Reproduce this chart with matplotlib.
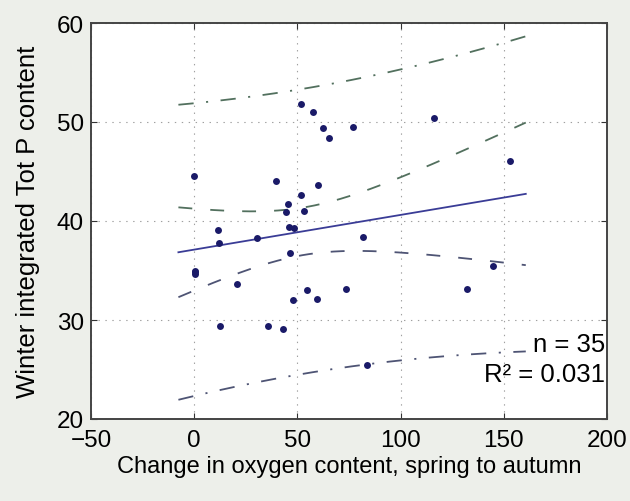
import numpy as np
import matplotlib
matplotlib.use("Agg")
import matplotlib.pyplot as plt

plt.rcParams['font.family'] = ['Liberation Sans', 'DejaVu Sans']
plt.rcParams['lines.scale_dashes'] = False

# oxygen change (spring -> autumn) vs winter integrated total P
oxygen_change = [0.0, 0.4, 0.4, 0.4, 11.6, 12.2, 12.6, 20.8, 30.5, 35.8,
                 39.6, 43.2, 44.7, 45.5, 46.1, 46.3, 47.9, 48.4, 51.6, 51.6,
                 53.1, 54.7, 57.4, 59.5, 60.0, 62.6, 65.2, 73.5, 77.1, 81.7,
                 83.5, 116.4, 132.4, 145.0, 153.0]
tot_p = [44.5, 35.0, 34.8, 34.6, 39.1, 37.8, 29.4, 33.6, 38.3, 29.4,
         44.0, 29.1, 40.9, 41.7, 39.4, 36.8, 32.0, 39.3, 51.8, 42.6,
         41.0, 33.0, 51.0, 32.1, 43.6, 49.4, 48.4, 33.1, 49.5, 38.4,
         25.5, 50.4, 33.1, 35.5, 46.1]

# statistics as reported on the figure
n_reported = 35
r2_reported = 0.031

x_ticks = [-50, 0, 50, 100, 150, 200]
y_ticks = [20, 30, 40, 50, 60]
t_crit = 2.0345  # t(0.975, n-2) for n = 35

x = np.array(oxygen_change)
y = np.array(tot_p)
n = len(x)

# least squares fit with 95% confidence and prediction bands
slope, intercept = np.polyfit(x, y, 1)
resid = y - (intercept + slope * x)
s = np.sqrt(np.sum(resid ** 2) / (n - 2))
sxx = np.sum((x - x.mean()) ** 2)
pad = 0.05 * (x.max() - x.min())
xg = np.linspace(x.min() - pad, x.max() + pad, 200)
yg = intercept + slope * xg
ci = t_crit * s * np.sqrt(1 / n + (xg - x.mean()) ** 2 / sxx)
pi = t_crit * s * np.sqrt(1 + 1 / n + (xg - x.mean()) ** 2 / sxx)

fig = plt.figure(figsize=(6.3, 5.02), dpi=100, facecolor='#edefea')
ax = fig.add_axes([91 / 630, 1 - 420 / 502, 516 / 630, 396 / 502])
ax.set_facecolor('white')

ax.grid(True, linestyle=(0, (1, 4)), color='#a0a0a0', linewidth=0.8)
ax.set_axisbelow(True)

ax.plot(xg, yg + pi, color='#52705e', linewidth=1.3, linestyle=(0, (11, 9, 1.5, 9)))
ax.plot(xg, yg - pi, color='#4e5474', linewidth=1.3, linestyle=(0, (11, 9, 1.5, 9)))
ax.plot(xg, yg + ci, color='#52705e', linewidth=1.3, linestyle=(0, (10, 13)))
ax.plot(xg, yg - ci, color='#4e5474', linewidth=1.3, linestyle=(0, (10, 13)))
ax.plot(xg, yg, color='#3a3c96', linewidth=1.3)
ax.plot(x, y, 'o', color='#1a1a68', markersize=5, markeredgewidth=0)

ax.text(199.2, 27.6, f'n = {n_reported}', ha='right', va='center', fontsize=18.5)
ax.text(199.2, 24.5, f'R\u00b2 = {r2_reported:.3f}', ha='right', va='center', fontsize=18.5)

ax.set_xlim(-50, 200)
ax.set_ylim(20, 60)
ax.set_xticks(x_ticks)
ax.set_yticks(y_ticks)
ax.tick_params(direction='in', length=4, width=0.8, top=True, right=True,
               labelsize=17.5, color='#333333')
ax.tick_params(axis='x', pad=7)
ax.tick_params(axis='y', pad=5)
for sp in ax.spines.values():
    sp.set_color('#444444')
    sp.set_linewidth(1.4)

ax.set_xlabel('Change in oxygen content, spring to autumn', fontsize=17, labelpad=3)
ax.set_ylabel('Winter integrated Tot P content', fontsize=18.5, labelpad=12)

fig.savefig('out.png', dpi=100, facecolor=fig.get_facecolor())
